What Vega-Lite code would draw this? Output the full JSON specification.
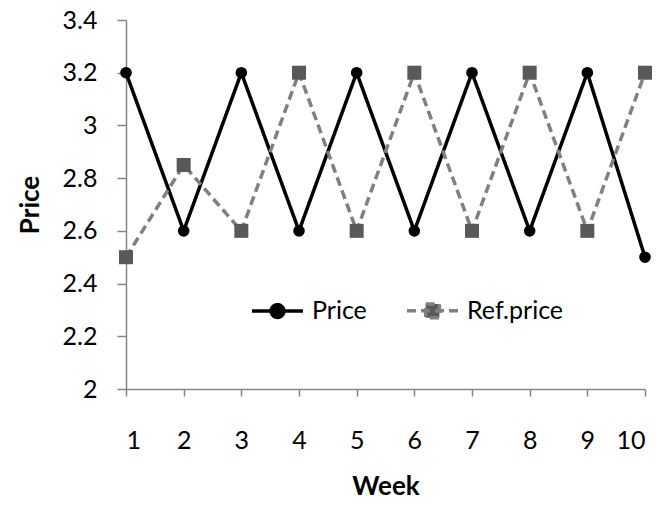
{
  "$schema": "https://vega.github.io/schema/vega-lite/v6.json",
  "width": 519,
  "height": 369,
  "autosize": "none",
  "padding": {"left": 126, "top": 20, "right": 18, "bottom": 117},
  "background": "white",
  "config": {
    "view": {"stroke": null},
    "font": "Lato",
    "axis": {
      "grid": false,
      "domainColor": "#868686",
      "domainWidth": 1.5,
      "tickColor": "#868686",
      "tickWidth": 1.5,
      "labelFont": "Lato",
      "labelFontSize": 25,
      "labelColor": "#000000",
      "titleFont": "Lato",
      "titleFontSize": 26,
      "titleFontWeight": "bold",
      "titleColor": "#000000"
    }
  },
  "data": {
    "values": [
      {"week": 1, "series": "Price", "price": 3.2},
      {"week": 2, "series": "Price", "price": 2.6},
      {"week": 3, "series": "Price", "price": 3.2},
      {"week": 4, "series": "Price", "price": 2.6},
      {"week": 5, "series": "Price", "price": 3.2},
      {"week": 6, "series": "Price", "price": 2.6},
      {"week": 7, "series": "Price", "price": 3.2},
      {"week": 8, "series": "Price", "price": 2.6},
      {"week": 9, "series": "Price", "price": 3.2},
      {"week": 10, "series": "Price", "price": 2.5},
      {"week": 1, "series": "Ref.price", "price": 2.5},
      {"week": 2, "series": "Ref.price", "price": 2.85},
      {"week": 3, "series": "Ref.price", "price": 2.6},
      {"week": 4, "series": "Ref.price", "price": 3.2},
      {"week": 5, "series": "Ref.price", "price": 2.6},
      {"week": 6, "series": "Ref.price", "price": 3.2},
      {"week": 7, "series": "Ref.price", "price": 2.6},
      {"week": 8, "series": "Ref.price", "price": 3.2},
      {"week": 9, "series": "Ref.price", "price": 2.6},
      {"week": 10, "series": "Ref.price", "price": 3.2}
    ]
  },
  "encoding": {
    "x": {
      "field": "week",
      "type": "quantitative",
      "scale": {"domain": [1, 10], "nice": false, "zero": false},
      "axis": {
        "title": "Week",
        "values": [1, 2, 3, 4, 5, 6, 7, 8, 9, 10],
        "format": "d",
        "tickSize": 7,
        "labelPadding": 32,
        "titlePadding": 20
      }
    },
    "y": {
      "field": "price",
      "type": "quantitative",
      "scale": {"domain": [2, 3.4], "nice": false, "zero": false},
      "axis": {
        "title": "Price",
        "values": [2, 2.2, 2.4, 2.6, 2.8, 3, 3.2, 3.4],
        "format": "~g",
        "tickSize": 9,
        "labelPadding": 20,
        "titlePadding": 19
      }
    }
  },
  "layer": [
    {
      "mark": {"type": "line", "strokeWidth": 3.5},
      "encoding": {
        "stroke": {
          "field": "series",
          "type": "nominal",
          "scale": {"domain": ["Price", "Ref.price"], "range": ["#000000", "#808080"]},
          "legend": {
            "title": null,
            "orient": "none",
            "direction": "horizontal",
            "legendX": 124,
            "legendY": 263,
            "padding": 0,
            "symbolSize": 2601,
            "symbolStrokeWidth": 3.5,
            "labelFont": "Lato",
            "labelFontSize": 25,
            "labelColor": "#000000",
            "labelOffset": 7,
            "columnPadding": 33,
            "encode": {
              "symbols": {
                "update": {
                  "shape": [
                    {"test": "datum.value === 'Price'", "value": "M-1,0H1M-0.25,0A0.25,0.25,0,1,0,0.25,0A0.25,0.25,0,1,0,-0.25,0Z"},
                    {"value": "M-1,0H1M-0.27,-0.27H0.27V0.27H-0.27Z"}
                  ],
                  "fill": [
                    {"test": "datum.value === 'Price'", "value": "#000000"},
                    {"value": "#595959"}
                  ],
                  "opacity": {"value": 1}
                }
              }
            }
          }
        },
        "strokeDash": {
          "field": "series",
          "type": "nominal",
          "scale": {"domain": ["Price", "Ref.price"], "range": [[1, 0], [9, 5]]},
          "legend": {
            "title": null,
            "orient": "none",
            "direction": "horizontal",
            "legendX": 124,
            "legendY": 263,
            "padding": 0,
            "symbolSize": 2601,
            "symbolStrokeWidth": 3.5,
            "labelFont": "Lato",
            "labelFontSize": 25,
            "labelColor": "#000000",
            "labelOffset": 7,
            "columnPadding": 33
          }
        }
      }
    },
    {
      "transform": [{"filter": "datum.series === 'Price'"}],
      "mark": {"type": "point", "shape": "circle", "filled": true, "opacity": 1, "color": "#000000", "size": 135}
    },
    {
      "transform": [{"filter": "datum.series === 'Ref.price'"}],
      "mark": {"type": "point", "shape": "square", "filled": true, "opacity": 1, "color": "#595959", "size": 196}
    }
  ]
}
